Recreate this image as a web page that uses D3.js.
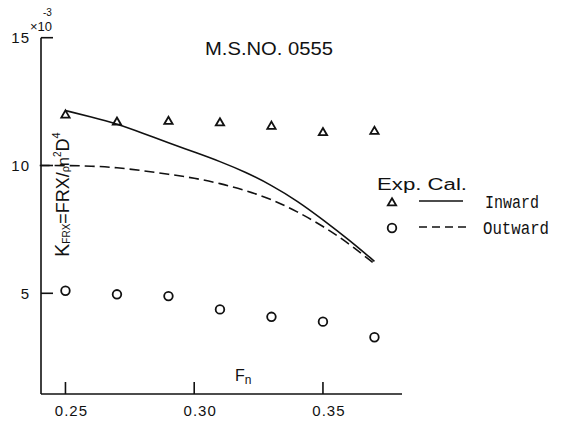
<!DOCTYPE html>
<html><head><meta charset="utf-8">
<script src="https://cdn.jsdelivr.net/npm/d3@7/dist/d3.min.js"></script>
<style>body{margin:0;background:#fff}svg{display:block}</style>
</head><body>
<script>
// Data
const fnExp = [0.25, 0.27, 0.29, 0.31, 0.33, 0.35, 0.37];
const inwardExp = [11.97, 11.69, 11.72, 11.66, 11.53, 11.28, 11.33];
const outwardExp = [5.10, 4.96, 4.89, 4.37, 4.08, 3.89, 3.28];
const fnCalIn = [0.25, 0.26, 0.27, 0.28, 0.29, 0.30, 0.31, 0.32, 0.33, 0.34, 0.35, 0.36, 0.37];
const inwardCal = [12.15, 11.90, 11.63, 11.27, 10.88, 10.53, 10.16, 9.74, 9.23, 8.62, 7.88, 7.10, 6.25];
const fnCalOut = [0.24, 0.25, 0.26, 0.27, 0.28, 0.29, 0.30, 0.31, 0.32, 0.33, 0.34, 0.35, 0.36, 0.37];
const outwardCal = [10.0, 10.0, 9.98, 9.92, 9.80, 9.66, 9.51, 9.30, 9.03, 8.68, 8.20, 7.63, 6.96, 6.15];
const xTicks = [0.25, 0.30, 0.35];
const xTickLabels = ["0.25", "0.30", "0.35"];
const yTicks = [5, 10, 15];
const yTickLabels = ["5", "10", "15"];

const W = 565, H = 421;
const svg = d3.select("body").append("svg").attr("width", W).attr("height", H);
const x = d3.scaleLinear().domain([0.2405, 0.3807]).range([41, 402]);
const y = d3.scaleLinear().domain([1.06, 15]).range([394, 37.7]);
const font = "'Liberation Sans', Arial, sans-serif";
const ink = "#111";

// Axes lines
svg.append("line").attr("x1", x.range()[0]).attr("x2", x.range()[0]).attr("y1", y(15)).attr("y2", y.range()[0])
  .attr("stroke", ink).attr("stroke-width", 1.6);
svg.append("line").attr("x1", x.range()[0]).attr("x2", x.range()[1]).attr("y1", y.range()[0]).attr("y2", y.range()[0])
  .attr("stroke", ink).attr("stroke-width", 1.6);

// X ticks (inward)
xTicks.forEach((t, i) => {
  svg.append("line").attr("x1", x(t)).attr("x2", x(t)).attr("y1", y.range()[0]).attr("y2", y.range()[0] - 12)
    .attr("stroke", ink).attr("stroke-width", 1.6);
  svg.append("text").attr("x", x(t) + 6).attr("y", 416).attr("text-anchor", "middle")
    .attr("font-family", font).attr("font-size", 15).attr("letter-spacing", 1).attr("fill", ink).text(xTickLabels[i]);
});
// Y ticks (inward)
yTicks.forEach((t, i) => {
  svg.append("line").attr("x1", x.range()[0]).attr("x2", x.range()[0] + 12).attr("y1", y(t)).attr("y2", y(t))
    .attr("stroke", ink).attr("stroke-width", 1.6);
  svg.append("text").attr("x", 30).attr("y", y(t) + 5.5).attr("text-anchor", "end")
    .attr("font-family", font).attr("font-size", 15).attr("letter-spacing", 1).attr("fill", ink).text(yTickLabels[i]);
});
// x10^-3
svg.append("text").attr("x", 30).attr("y", 30.5).attr("font-family", font).attr("font-size", 13)
  .attr("fill", ink).text("×10");
svg.append("text").attr("x", 43).attr("y", 16).attr("font-family", font).attr("font-size", 10)
  .attr("fill", ink).text("-3");

// Title
svg.append("text").attr("x", 205).attr("y", 55).attr("font-family", font).attr("font-size", 18)
  .attr("textLength", 128).attr("lengthAdjust", "spacingAndGlyphs").attr("fill", ink).text("M.S.NO. 0555");

// Y axis label (rotated)
const yl = svg.append("text").attr("transform", "translate(69,257) rotate(-90)").attr("font-family", font).attr("fill", ink);
yl.append("tspan").attr("font-size", 20).text("K");
yl.append("tspan").attr("font-size", 10).attr("dy", 1).text("FRX");
yl.append("tspan").attr("font-size", 18).attr("dy", -1).text("=FRX/");
yl.append("tspan").attr("font-size", 11).attr("dy", 0).text("ρ");
yl.append("tspan").attr("font-size", 16).text("n");
yl.append("tspan").attr("font-size", 10).attr("dy", -8).text("2");
yl.append("tspan").attr("font-size", 18).attr("dy", 8).text("D");
yl.append("tspan").attr("font-size", 11).attr("dy", -9).text("4");

// X axis label
const xl = svg.append("text").attr("x", 235).attr("y", 381).attr("font-family", font).attr("fill", ink);
xl.append("tspan").attr("font-size", 16).text("F");
xl.append("tspan").attr("font-size", 12).attr("dy", 3).text("n");

// Lines
const line = d3.line().x(d => x(d[0])).y(d => y(d[1])).curve(d3.curveBasis);
svg.append("path").attr("d", line(fnCalIn.map((f, i) => [f, inwardCal[i]])))
  .attr("fill", "none").attr("stroke", ink).attr("stroke-width", 1.6);
svg.append("path").attr("d", line(fnCalOut.map((f, i) => [f, outwardCal[i]])))
  .attr("fill", "none").attr("stroke", ink).attr("stroke-width", 1.6).attr("stroke-dasharray", "10,5");

// Markers
const tri = d3.symbol().type(d3.symbolTriangle).size(30);
svg.append("g").selectAll("path").data(fnExp.map((f, i) => [f, inwardExp[i]])).join("path")
  .attr("d", tri).attr("transform", d => `translate(${x(d[0])},${y(d[1])})`)
  .attr("fill", "none").attr("stroke", ink).attr("stroke-width", 1.8);
svg.append("g").selectAll("circle").data(fnExp.map((f, i) => [f, outwardExp[i]])).join("circle")
  .attr("cx", d => x(d[0])).attr("cy", d => y(d[1])).attr("r", 4.3)
  .attr("fill", "none").attr("stroke", ink).attr("stroke-width", 1.8);

// Legend
svg.append("text").attr("x", 377).attr("y", 190).attr("font-family", font).attr("font-size", 16)
  .attr("textLength", 90).attr("lengthAdjust", "spacingAndGlyphs").attr("fill", ink).text("Exp. Cal.");
svg.append("path").attr("d", tri).attr("transform", "translate(392,203)")
  .attr("fill", "none").attr("stroke", ink).attr("stroke-width", 1.8);
svg.append("circle").attr("cx", 392).attr("cy", 228).attr("r", 4.3)
  .attr("fill", "none").attr("stroke", ink).attr("stroke-width", 1.8);
svg.append("line").attr("x1", 419).attr("x2", 463).attr("y1", 201).attr("y2", 201).attr("stroke", ink).attr("stroke-width", 1.6);
svg.append("line").attr("x1", 419).attr("x2", 466).attr("y1", 227).attr("y2", 227).attr("stroke", ink).attr("stroke-width", 1.6)
  .attr("stroke-dasharray", "8,5");
svg.append("text").attr("x", 485).attr("y", 208).attr("font-family", "'Liberation Mono', monospace").attr("font-size", 18)
  .attr("textLength", 54).attr("lengthAdjust", "spacingAndGlyphs").attr("fill", ink).text("Inward");
svg.append("text").attr("x", 483).attr("y", 234).attr("font-family", "'Liberation Mono', monospace").attr("font-size", 18)
  .attr("textLength", 66).attr("lengthAdjust", "spacingAndGlyphs").attr("fill", ink).text("Outward");
</script>
</body></html>
